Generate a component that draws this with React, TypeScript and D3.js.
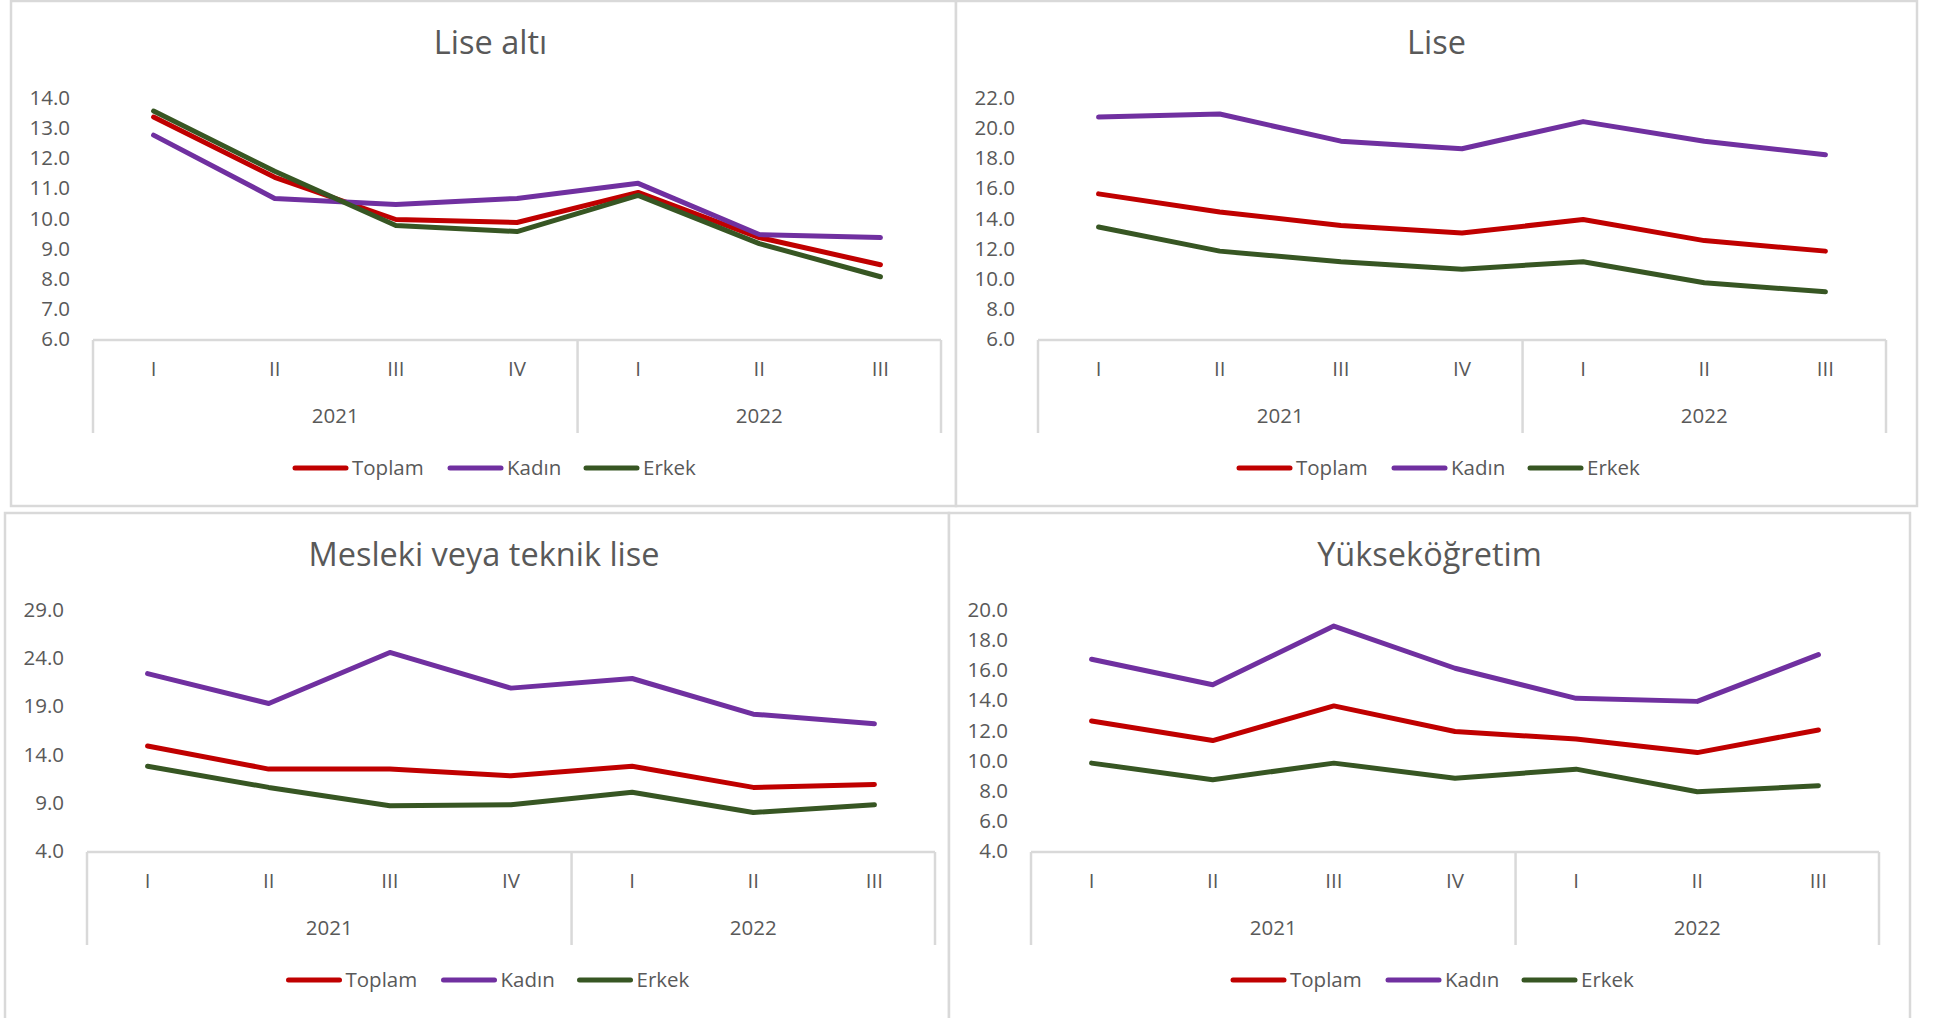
import React from 'react';
import * as d3 from 'd3';

// quarters on the x axis, grouped by year
const quarters = ['I', 'II', 'III', 'IV', 'I', 'II', 'III'];
const years = ['2021', '2022'];
const quartersPerYear = [4, 3];

const seriesNames = ['Toplam', 'Kadın', 'Erkek'];
const seriesColors = ['#C00000', '#7030A0', '#375623'];

// Lise altı
const liseAltiToplam = [13.4, 11.4, 10.0, 9.9, 10.9, 9.4, 8.5];
const liseAltiKadin = [12.8, 10.7, 10.5, 10.7, 11.2, 9.5, 9.4];
const liseAltiErkek = [13.6, 11.6, 9.8, 9.6, 10.8, 9.2, 8.1];
const liseAltiTicks = [6, 7, 8, 9, 10, 11, 12, 13, 14];

// Lise
const liseToplam = [15.7, 14.5, 13.6, 13.1, 14.0, 12.6, 11.9];
const liseKadin = [20.8, 21.0, 19.2, 18.7, 20.5, 19.2, 18.3];
const liseErkek = [13.5, 11.9, 11.2, 10.7, 11.2, 9.8, 9.2];
const liseTicks = [6, 8, 10, 12, 14, 16, 18, 20, 22];

// Mesleki veya teknik lise
const meslekiToplam = [15.0, 12.6, 12.6, 11.9, 12.9, 10.7, 11.0];
const meslekiKadin = [22.5, 19.4, 24.7, 21.0, 22.0, 18.3, 17.3];
const meslekiErkek = [12.9, 10.7, 8.8, 8.9, 10.2, 8.1, 8.9];
const meslekiTicks = [4, 9, 14, 19, 24, 29];

// Yükseköğretim
const yuksekToplam = [12.7, 11.4, 13.7, 12.0, 11.5, 10.6, 12.1];
const yuksekKadin = [16.8, 15.1, 19.0, 16.2, 14.2, 14.0, 17.1];
const yuksekErkek = [9.9, 8.8, 9.9, 8.9, 9.5, 8.0, 8.4];
const yuksekTicks = [4, 6, 8, 10, 12, 14, 16, 18, 20];

const FONT = '"Open Sans", "DejaVu Sans", sans-serif';
const TEXT = '#595959';
const GRID = '#d9d9d9';
const PLOT_W = 848;
const legendTextW = [72, 53, 53];

interface PanelProps {
  title: string;
  ticks: number[];
  series: number[][];
  left: number;
  right: number;
  top: number;
  bottom: number;
  titleDx: number;
  legendDx: number;
}

function Panel({ title, ticks, series, left, right, top, bottom, titleDx, legendDx }: PanelProps) {
  const x0 = left + 82;
  const x = d3.scaleBand<number>()
    .domain(d3.range(quarters.length))
    .range([x0, x0 + PLOT_W])
    .padding(0);
  const cx = (i: number) => x(i)! + x.bandwidth() / 2;
  const y = d3.scaleLinear()
    .domain([ticks[0], ticks[ticks.length - 1]])
    .range([top + 339, top + 98]);
  const line = d3.line<number>().x((_, i) => cx(i)).y(d => y(d));

  // year group boundaries
  const bounds = [0, ...d3.cumsum(quartersPerYear)];
  const mid = (left + right) / 2;
  const bx = (b: number) => (b === quarters.length ? x0 + PLOT_W : x(b)!);

  // legend layout
  const itemW = legendTextW.map(w => 55 + 4 + w);
  const legendW = d3.sum(itemW) + 24 * (itemW.length - 1);
  let lx = mid + legendDx - legendW / 2;
  const legendX = itemW.map(w => { const v = lx; lx += w + 24; return v; });

  return (
    <g fontFamily={FONT}>
      <rect x={left} y={top} width={right - left} height={bottom - top}
        fill="white" stroke={GRID} strokeWidth={2.5} />
      <text x={mid + titleDx} y={top + 53} textAnchor="middle" fontSize={32.5} fill={TEXT}>{title}</text>

      {ticks.map(t => (
        <text key={t} x={left + 59} y={y(t) + 6} textAnchor="end" fontSize={20.5} fill={TEXT}>
          {d3.format('.1f')(t)}
        </text>
      ))}

      <line x1={x0} x2={x0 + PLOT_W} y1={y(ticks[0])} y2={y(ticks[0])} stroke={GRID} strokeWidth={2.5} />
      {bounds.map((b, i) => (
        <line key={i} x1={bx(b)} x2={bx(b)} y1={y(ticks[0])} y2={top + 432} stroke={GRID} strokeWidth={2.5} />
      ))}
      {quarters.map((q, i) => (
        <text key={i} x={cx(i)} y={top + 375} textAnchor="middle" fontSize={20.5} fill={TEXT}>{q}</text>
      ))}
      {years.map((yr, i) => (
        <text key={yr} x={(bx(bounds[i]) + bx(bounds[i + 1])) / 2} y={top + 422}
          textAnchor="middle" fontSize={20.5} fill={TEXT}>{yr}</text>
      ))}

      {series.map((s, i) => (
        <path key={i} d={line(s) || ''} fill="none" stroke={seriesColors[i]} strokeWidth={5}
          strokeLinecap="round" strokeLinejoin="round" />
      ))}

      {seriesNames.map((n, i) => (
        <g key={n}>
          <line x1={legendX[i] + 2} x2={legendX[i] + 53} y1={top + 467} y2={top + 467}
            stroke={seriesColors[i]} strokeWidth={5} strokeLinecap="round" />
          <text x={legendX[i] + 59} y={top + 474} fontSize={20.5} fill={TEXT}>{n}</text>
        </g>
      ))}
    </g>
  );
}

export default function App() {
  return (
    <svg width={1937} height={1018} style={{ position: 'absolute', left: 0, top: 0, background: 'white' }}>
      <Panel title="Lise altı" ticks={liseAltiTicks} series={[liseAltiToplam, liseAltiKadin, liseAltiErkek]}
        left={11} right={956} top={1} bottom={506} titleDx={7} legendDx={11} />
      <Panel title="Lise" ticks={liseTicks} series={[liseToplam, liseKadin, liseErkek]}
        left={956} right={1917} top={1} bottom={506} titleDx={0} legendDx={2} />
      <Panel title="Mesleki veya teknik lise" ticks={meslekiTicks} series={[meslekiToplam, meslekiKadin, meslekiErkek]}
        left={5} right={949} top={513} bottom={1030} titleDx={7} legendDx={11} />
      <Panel title="Yükseköğretim" ticks={yuksekTicks} series={[yuksekToplam, yuksekKadin, yuksekErkek]}
        left={949} right={1910} top={513} bottom={1030} titleDx={0} legendDx={3} />
    </svg>
  );
}
